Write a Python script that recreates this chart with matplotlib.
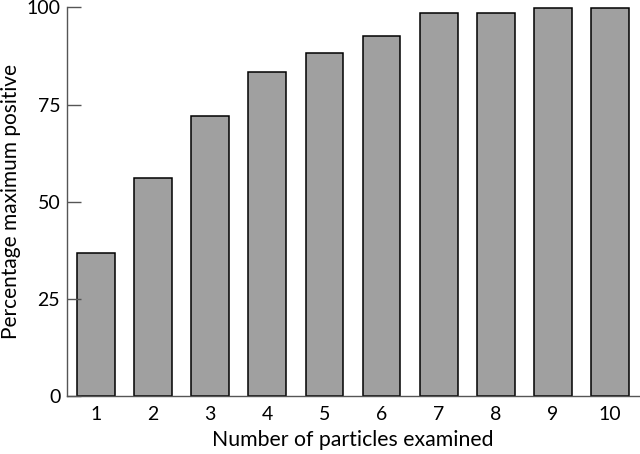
import matplotlib.pyplot as plt

# data
particles = [1, 2, 3, 4, 5, 6, 7, 8, 9, 10]
pct_max_positive = [36.8, 56.0, 72.1, 83.4, 88.3, 92.7, 98.6, 98.6, 99.7, 99.7]
y_ticks = [0, 25, 50, 75, 100]

plt.rcParams['font.family'] = ['Lato', 'DejaVu Sans']

fig = plt.figure(figsize=(6.4, 4.54), dpi=100)
ax = fig.add_axes([0.105, 0.127, 0.893, 0.857])

ax.bar(particles, pct_max_positive, width=0.66, color="#a0a0a0",
       edgecolor="black", linewidth=1.1)

ax.set_xlim(0.5, 10.5)
ax.set_ylim(0, 100)
ax.set_xticks(particles)
ax.set_yticks(y_ticks)

for side in ("top", "right"):
    ax.spines[side].set_visible(False)
for side in ("left", "bottom"):
    ax.spines[side].set_color("#555555")
    ax.spines[side].set_linewidth(1.0)

ax.tick_params(axis="y", direction="in", length=10, width=1.0,
               color="#555555", labelsize=14, pad=5)
ax.tick_params(axis="x", length=0, labelsize=14, pad=7)

ax.set_xlabel("Number of particles examined", fontsize=15.3, labelpad=5)
ax.set_ylabel("Percentage maximum positive", fontsize=15, labelpad=4)

fig.savefig("out.png", dpi=100)
